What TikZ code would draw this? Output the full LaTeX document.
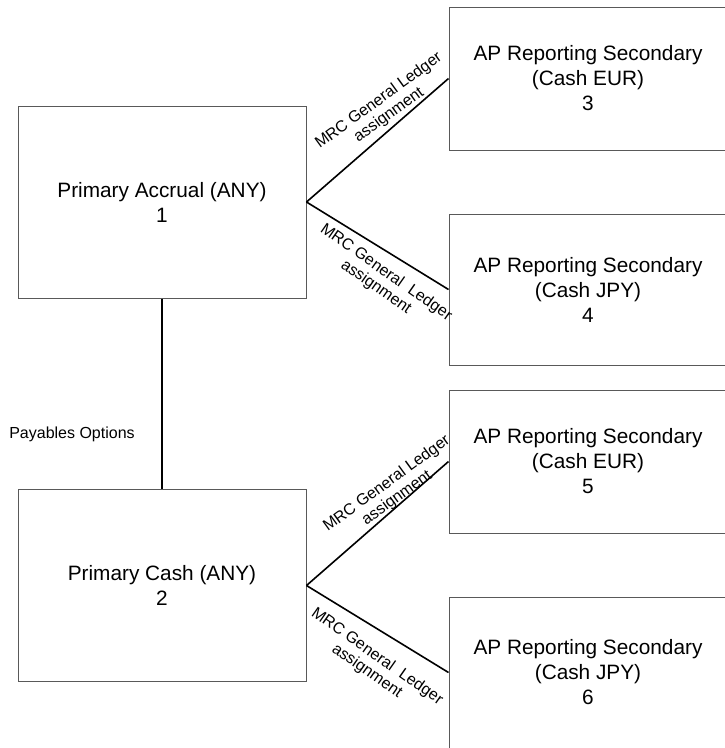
\documentclass[tikz,border=0pt]{standalone}
\usepackage{fontspec}
\setmainfont{Liberation Sans}
\begin{document}
\begin{tikzpicture}[x=1pt,y=-1pt,
  box/.style={draw=black!65, line width=1pt, fill=white, inner sep=0pt, align=center,
    font=\fontsize{20.8}{25}\selectfont},
  conn/.style={draw=black, line width=1.6pt},
  lbl/.style={inner sep=0pt, align=center, font=\fontsize{16}{17.5}\selectfont}]
\useasboundingbox (0,0) rectangle (725,748);
\clip (0,0) rectangle (725,748);
\node[box, minimum width=288pt, minimum height=192pt] (b1) at (162,202) {Primary Accrual (ANY)\\1};
\node[box, minimum width=288pt, minimum height=192pt] (b2) at (162,585.5) {Primary Cash (ANY)\\2};
\node[box, minimum width=278pt, minimum height=143pt] (b3) at (588,78.5) {AP Reporting Secondary\\(Cash EUR)\\3};
\node[box, minimum width=278pt, minimum height=151pt] (b4) at (588,289.5) {AP Reporting Secondary\\(Cash JPY)\\4};
\node[box, minimum width=278pt, minimum height=143pt] (b5) at (588,461.5) {AP Reporting Secondary\\(Cash EUR)\\5};
\node[box, minimum width=278pt, minimum height=151pt] (b6) at (588,672.5) {AP Reporting Secondary\\(Cash JPY)\\6};
\draw[conn] (b1.south) -- (b2.north);
\draw[conn] (b1.east) -- (b3.west);
\draw[conn] (b1.east) -- (b4.west);
\draw[conn] (b2.east) -- (b5.west);
\draw[conn] (b2.east) -- (b6.west);
\node[lbl] (pay) at (72,434) {Payables Options};
\node[lbl, rotate=36] (l13) at (384,108) {MRC General Ledger\\assignment};
\node[lbl, rotate=-35] (l14) at (381,280) {MRC General\ \ Ledger\\assignment};
\node[lbl, rotate=36] (l25) at (392,491) {MRC General Ledger\\assignment};
\node[lbl, rotate=-35] (l26) at (372,664) {MRC General\ \ Ledger\\assignment};
\end{tikzpicture}
\end{document}
